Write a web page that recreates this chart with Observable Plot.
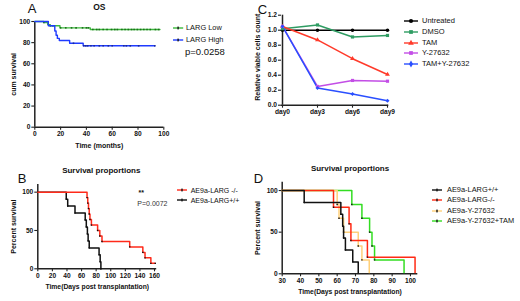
<!DOCTYPE html>
<html><head><meta charset="utf-8">
<script src="https://cdn.jsdelivr.net/npm/d3@7"></script>
<script src="https://cdn.jsdelivr.net/npm/@observablehq/plot@0.6"></script>
<style>
body{margin:0;background:#fff}
#wrap{position:relative;width:520px;height:301px;overflow:hidden;background:#fff;font-family:"Liberation Sans",Arial,sans-serif;color:#111}
#wrap svg.panel{position:absolute;left:0;top:0}
.lt{position:absolute;white-space:nowrap;line-height:1;transform:translateY(-50%)}
</style></head>
<body><div id="wrap"></div>
<script>
// ---------- Panel A : OS ----------
const aNames = ["LARG Low", "LARG High"];
const aColors = ["#3cb93c", "#1f3bff"];
const aLowT = [0, 7, 10, 12, 19.5, 43, 97];
const aLowS = [100, 99, 97, 96, 94, 92.4, 92.4];
const aHighT = [0, 10.5, 15.5, 16.5, 17.5, 19, 27, 37.5, 93];
const aHighS = [100, 96, 91, 87, 84, 82, 79.4, 77, 77];
const aLowCens = [7, 12, 14, 20, 24, 28.5, 32, 37, 40, 41.5, 45, 48, 50, 53, 56, 59.5, 62, 64, 67.5, 70, 72.5, 75, 77, 79.5, 82, 84.5, 87, 89.5, 93.5, 96];
const aHighCens = [30, 38, 39.5, 41, 43.5, 46, 50, 53, 57, 60, 69, 71, 74, 80.5, 93];
const aTicks = [0, 20, 40, 60, 80, 100];
const aP = "p=0.0258";

// ---------- Panel C : viability ----------
const cDays = ["day0", "day3", "day6", "day9"];
const cNames = ["Untreated", "DMSO", "TAM", "Y-27632", "TAM+Y-27632"];
const cColors = ["#000000", "#2e9c62", "#ff3a2a", "#c34ee6", "#2a4fff"];
const cUntreated = [1.0, 1.0, 1.0, 1.0];
const cDMSO = [1.02, 1.07, 0.91, 0.93];
const cTAM = [1.05, 0.87, 0.62, 0.41];
const cY = [1.05, 0.25, 0.33, 0.32];
const cTAMY = [1.05, 0.23, 0.15, 0.06];
const cYTicks = [0, 0.2, 0.4, 0.6, 0.8, 1.0, 1.2];

// ---------- Panel B : survival ----------
const bNames = ["AE9a-LARG -/-", "AE9a-LARG+/+"];
const bColors = ["#ff2a1a", "#111111"];
const bKoT = [0, 67.5, 68.5, 69.5, 70.5, 71.5, 73.5, 82, 85, 88, 126, 144, 147, 155, 161];
const bKoS = [100, 92.9, 85.7, 78.6, 71.4, 64.3, 57.1, 50, 42.9, 35.7, 28.6, 21.4, 14.3, 7.1, 7.1];
const bWtT = [0, 39, 41, 51, 65, 66.5, 68, 69, 70.5, 84, 85.5, 86.5];
const bWtS = [100, 90.9, 81.8, 72.7, 63.6, 54.5, 45.5, 36.4, 27.3, 18.2, 9.1, 0];
const bXTicks = [0, 20, 40, 60, 80, 100, 120, 140, 160];
const bYTicks = [0, 50, 100];
const bStars = "**";
const bP = "P=0.0072";

// ---------- Panel D : survival ----------
const dNames = ["AE9a-LARG+/+", "AE9a-LARG-/-", "AE9a-Y-27632", "AE9a-Y-27632+TAM"];
const dColors = ["#111111", "#ff2a14", "#ffd07a", "#33dd22"];
const dWtT = [0, 42, 62, 63, 63.5, 64.5, 68.5, 71.5];
const dWtS = [100, 85.7, 71.4, 57.1, 42.9, 28.6, 14.3, 0];
const dKoT = [0, 58, 66.5, 67.5, 76.5, 102.5];
const dKoS = [100, 80, 60, 40, 20, 0];
const dYT = [0, 60, 61, 63.5, 71.5, 73.5, 77.5];
const dYS = [100, 83.3, 66.7, 50, 33.3, 16.7, 0];
const dYTamT = [0, 68, 73.5, 77.7, 79, 80.4, 96.5];
const dYTamS = [100, 83.3, 66.7, 50, 33.3, 16.7, 0];
const dXTicks = [30, 40, 50, 60, 70, 80, 90, 100];
const dYTicks = [0, 50, 100];

// ---------------------------------------------------------------
const FONT = '"Liberation Sans", Arial, sans-serif';
const wrap = document.getElementById("wrap");
const W = 520, H = 301;
const baseStyle = {background: "transparent", overflow: "visible", fontFamily: FONT, color: "#111"};
function place(svg) { svg.classList.add("panel"); wrap.appendChild(svg); }
const rows = (ts, ss) => ts.map((t, i) => ({t, s: ss[i]}));
const stepAt = (ts, ss, t) => { let v = ss[0]; for (let i = 0; i < ts.length; i++) if (ts[i] <= t) v = ss[i]; return v; };
function axes(xTicks, yTicks, x0, y0, yFmt) {
  const common = {tickSize: 3, tickPadding: 1.5, fontSize: 6.6, fontWeight: "bold", label: null, stroke: "#222", fill: "#111", strokeWidth: 1.1};
  return [
    Plot.axisX(xTicks, {...common}),
    Plot.axisY(yTicks, {...common, tickFormat: yFmt}),
    Plot.ruleY([y0], {stroke: "#222", strokeWidth: 1.5}),
    Plot.ruleX([x0], {stroke: "#222", strokeWidth: 1.5})
  ];
}
const txt = (s, o) => Plot.text([s], {text: d => d, fill: "#111", ...o});
function box(l, r, t, b) { return {width: W, height: H, marginLeft: l, marginRight: W - r, marginTop: t, marginBottom: H - b, style: baseStyle}; }

// Panel A
place(Plot.plot({
  ...box(34.3, 163.3, 21, 126.7),
  x: {domain: [0, 100]}, y: {domain: [0, 100]},
  marks: [
    ...axes(aTicks, aTicks, 0, 0),
    Plot.line(rows(aLowT, aLowS), {x: "t", y: "s", curve: "step-after", stroke: aColors[0], strokeWidth: 1.4}),
    Plot.dot(aLowCens, {x: d => d, y: d => stepAt(aLowT, aLowS, d), r: 0.9, symbol: "square", fill: "#1c6e1c"}),
    Plot.line(rows(aHighT, aHighS), {x: "t", y: "s", curve: "step-after", stroke: aColors[1], strokeWidth: 1.4}),
    Plot.dot(aHighCens, {x: d => d, y: d => stepAt(aHighT, aHighS, d), r: 0.9, symbol: "square", fill: "#1a2a99"}),
    txt("OS", {frameAnchor: "top", dy: -14, fontSize: 8.5, fontWeight: "bold", lineAnchor: "middle"}),
    txt("Time (months)", {frameAnchor: "bottom", dy: 19, fontSize: 7, fontWeight: "bold", lineAnchor: "middle"}),
    txt("cum survival", {frameAnchor: "left", dx: -21, rotate: -90, fontSize: 7, fontWeight: "bold", textAnchor: "middle", lineAnchor: "middle"}),
    txt("A", {frameAnchor: "top-left", dx: -2.6, dy: -12.7, fontSize: 13, textAnchor: "middle", lineAnchor: "middle"})
  ]
}));

// Panel C
const cSeries = [cUntreated, cDMSO, cTAM, cY, cTAMY];
const cRows = cNames.flatMap((n, k) => cDays.map((d, i) => ({series: n, day: d, v: cSeries[k][i]})));
const cSymbols = ["circle", "square", "triangle", "square", "diamond2"];
place(Plot.plot({
  ...box(281, 388.3, 14.7, 104.7),
  x: {type: "point", domain: cDays, padding: 0},
  y: {domain: [0, 1.2]},
  color: {domain: cNames, range: cColors},
  symbol: {domain: cNames, range: cSymbols},
  marks: [
    ...axes(cDays, cYTicks, "day0", 0, d3.format(".1f")),
    Plot.line(cRows, {x: "day", y: "v", z: "series", stroke: "series", strokeWidth: 1.5}),
    Plot.dot(cRows, {x: "day", y: "v", fill: "series", symbol: "series", r: 1.8}),
    txt("Relative viable cells count", {frameAnchor: "left", dx: -24, dy: -3, rotate: -90, fontSize: 7, fontWeight: "bold", textAnchor: "middle", lineAnchor: "middle"}),
    txt("C", {frameAnchor: "top-left", dx: -19, dy: -5.7, fontSize: 13, textAnchor: "middle", lineAnchor: "middle"})
  ]
}));

// Panel B
const bSeries = [[bWtT, bWtS, bColors[1]], [bKoT, bKoS, bColors[0]]];
place(Plot.plot({
  ...box(37.3, 156.2, 184, 268.3),
  x: {domain: [0, 163]}, y: {domain: [0, 110]},
  marks: [
    ...axes(bXTicks, bYTicks, 0, 0),
    ...bSeries.flatMap(([t, s, c]) => [
      Plot.line(rows(t, s), {x: "t", y: "s", curve: "step-after", stroke: c, strokeWidth: 1.5}),
      Plot.dot(rows(t, s).slice(1), {x: "t", y: "s", r: 0.8, symbol: "square", fill: "#111"})
    ]),
    txt("Survival proportions", {frameAnchor: "top", dx: 4, dy: -14, fontSize: 8, fontWeight: "bold", lineAnchor: "middle"}),
    txt("Time(Days post transplantation)", {frameAnchor: "bottom", dy: 17.7, fontSize: 6.8, fontWeight: "bold", lineAnchor: "middle"}),
    txt("Percent survival", {frameAnchor: "left", dx: -24, rotate: -90, fontSize: 7, fontWeight: "bold", textAnchor: "middle", lineAnchor: "middle"}),
    txt("B", {frameAnchor: "top-left", dx: -15.6, dy: -6, fontSize: 13, textAnchor: "middle", lineAnchor: "middle"})
  ]
}));

// Panel D
const dSeries = [[dYTamT, dYTamS, dColors[3]], [dYT, dYS, dColors[2]], [dKoT, dKoS, dColors[1]], [dWtT, dWtS, dColors[0]]];
place(Plot.plot({
  ...box(281.7, 417.3, 181.7, 273.3),
  x: {domain: [30, 104]}, y: {domain: [0, 110]},
  marks: [
    ...axes(dXTicks, dYTicks, 30, 0),
    ...dSeries.flatMap(([t, s, c]) => [
      Plot.line(rows(t, s), {x: "t", y: "s", curve: "step-after", stroke: c, strokeWidth: 1.5, clip: true}),
      Plot.dot(rows(t, s).slice(1), {x: "t", y: "s", r: 0.8, symbol: "square", fill: "#111", clip: true})
    ]),
    txt("Survival proportions", {frameAnchor: "top", dy: -13.4, fontSize: 8, fontWeight: "bold", lineAnchor: "middle"}),
    txt("Time(Days post transplantation)", {frameAnchor: "bottom", dy: 18.4, fontSize: 6.8, fontWeight: "bold", lineAnchor: "middle"}),
    txt("Percent survival", {frameAnchor: "left", dx: -24.7, rotate: -90, fontSize: 7, fontWeight: "bold", textAnchor: "middle", lineAnchor: "middle"}),
    txt("D", {frameAnchor: "top-left", dx: -23.7, dy: -3.7, fontSize: 13, textAnchor: "middle", lineAnchor: "middle"})
  ]
}));

// ---------- legends (HTML) ----------
function legend(names, colors, ys, {x0, x1, tx, fontSize, symbols}) {
  names.forEach((name, i) => {
    const w = x1 - x0;
    const s = d3.create("svg").attr("width", w + 6).attr("height", 10)
      .style("position", "absolute").style("left", (x0 - 3) + "px").style("top", (ys[i] - 5) + "px").style("overflow", "visible");
    s.append("line").attr("x1", 3).attr("x2", w + 3).attr("y1", 5).attr("y2", 5).attr("stroke", colors[i]).attr("stroke-width", 1.4);
    if (symbols) {
      s.append("path").attr("transform", `translate(${3 + w / 2},5)`).attr("d", d3.symbol(symbols[i], 14)()).attr("fill", colors[i]);
    } else {
      s.append("rect").attr("x", 3 + w / 2 - 0.7).attr("y", 3.6).attr("width", 1.4).attr("height", 2.8).attr("fill", "#111");
    }
    wrap.appendChild(s.node());
    const t = document.createElement("div");
    t.className = "lt"; t.textContent = name;
    t.style.left = tx + "px"; t.style.top = ys[i] + "px"; t.style.fontSize = fontSize + "px";
    wrap.appendChild(t);
  });
}
function label(text, x, y, size, weight, color) {
  const t = document.createElement("div");
  t.className = "lt"; t.textContent = text;
  t.style.left = x + "px"; t.style.top = y + "px"; t.style.fontSize = size + "px";
  t.style.fontWeight = weight || "normal"; if (color) t.style.color = color;
  wrap.appendChild(t);
}
legend(aNames, aColors, [27.7, 40.3], {x0: 173.3, x1: 183.5, tx: 186, fontSize: 7.4});
label(aP, 185, 51.7, 9.5);
legend(cNames, cColors, [21.3, 32, 43, 53.3, 63.5], {x0: 404, x1: 418, tx: 422, fontSize: 7.5,
  symbols: [d3.symbolCircle, d3.symbolSquare, d3.symbolTriangle, d3.symbolSquare, d3.symbolDiamond]});
legend(bNames, bColors, [190, 200], {x0: 177, x1: 187, tx: 190.7, fontSize: 7});
label(bStars, 138.5, 192, 7, "bold");
label(bP, 137.3, 202.7, 7, "normal", "#333");
legend(dNames, dColors, [190, 200, 211, 221], {x0: 431.7, x1: 441.7, tx: 447, fontSize: 7.4});
</script></body></html>
